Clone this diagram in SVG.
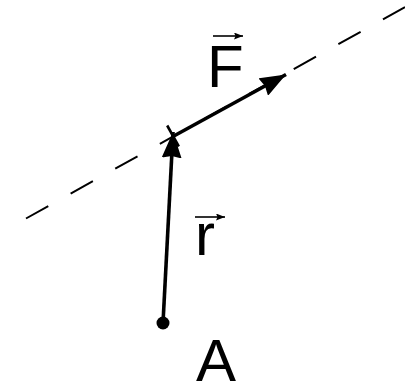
<svg xmlns="http://www.w3.org/2000/svg" width="405" height="386" viewBox="0 0 405 386">
<defs>
<style>
.lbl{font-family:"Liberation Sans",Arial,sans-serif;font-size:60px;fill:#000}
.vec{stroke:#000;stroke-width:1.6;fill:none}
.main{stroke:#000;stroke-width:3.6;fill:none}
</style>
<marker id="big" viewBox="0 0 26 20" refX="26" refY="10" markerWidth="26" markerHeight="20" markerUnits="userSpaceOnUse" orient="auto">
<path d="M0,0 L26,10 L0,20 L2,10 Z" fill="#000"/>
</marker>
<marker id="small" viewBox="0 0 9 7" refX="9" refY="3.5" markerWidth="9" markerHeight="7" markerUnits="userSpaceOnUse" orient="auto">
<path d="M0,0 L9,3.5 L0,7 L1.5,3.5 Z" fill="#000"/>
</marker>
</defs>
<rect width="405" height="386" fill="#fff"/>
<g id="connectors">
<line id="line-of-action" x1="26" y1="218.5" x2="405" y2="7" stroke="#000" stroke-width="2" stroke-dasharray="25.5 25.6"/>
<line id="F-arrow" class="main" x1="172" y1="137" x2="286" y2="74.5" marker-end="url(#big)"/>
<line id="r-arrow" class="main" x1="163" y1="323" x2="173" y2="132" marker-end="url(#big)"/>
<line id="tick" x1="167.2" y1="125.5" x2="178.8" y2="146.5" stroke="#000" stroke-width="2.6"/>
</g>
<g id="node-A">
<circle cx="163" cy="323" r="6.5" fill="#000"/>
<text class="lbl" x="196" y="381">A</text>
</g>
<g id="label-F">
<text class="lbl" x="207" y="87">F</text>
<line class="vec" x1="213" y1="36" x2="243" y2="36" marker-end="url(#small)"/>
</g>
<g id="label-r">
<text class="lbl" x="195" y="255">r</text>
<line class="vec" x1="195" y1="217" x2="225" y2="217" marker-end="url(#small)"/>
</g>
</svg>
